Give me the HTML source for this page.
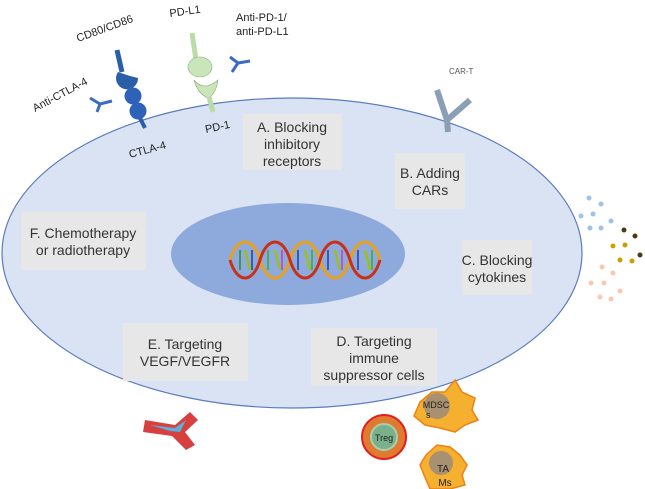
<!DOCTYPE html>
<html><head><meta charset="utf-8"><style>
html,body{margin:0;padding:0;background:#fff;}
svg{display:block;font-family:"Liberation Sans",sans-serif;}
.b{fill:#e7e7e7;}
.t{font-size:14px;fill:#333;text-anchor:middle;}
.s{font-size:11px;fill:#222;}
</style></head><body>
<svg width="645" height="489" viewBox="0 0 645 489">
<ellipse cx="292" cy="253" rx="290" ry="155" fill="#dae3f3" stroke="#5b7cbd" stroke-width="1.2"/>
<ellipse cx="288" cy="254" rx="117" ry="51" fill="#8eaadc"/>
<!-- DNA -->
<g stroke-width="1.5">
<line x1="240" y1="250" x2="240" y2="270" stroke="#2a8a2a"/><line x1="252" y1="250" x2="252" y2="270" stroke="#2040a0"/><line x1="268" y1="250" x2="268" y2="270" stroke="#30b030"/><line x1="282" y1="250" x2="282" y2="270" stroke="#c040c0"/><line x1="298" y1="250" x2="298" y2="270" stroke="#2040a0"/><line x1="312" y1="250" x2="312" y2="270" stroke="#30b030"/><line x1="328" y1="250" x2="328" y2="270" stroke="#2040a0"/><line x1="342" y1="250" x2="342" y2="270" stroke="#c040c0"/><line x1="358" y1="250" x2="358" y2="270" stroke="#2040a0"/><line x1="372" y1="250" x2="372" y2="270" stroke="#30b030"/>
</g>
<g stroke-width="3" fill="none">
<path d="M230 272 C237 248,253 248,260 272 S283 296,290 272 S313 248,320 272 S343 296,350 272 S373 248,380 272" stroke="#e8a020" transform="translate(0,-12)"/>
<path d="M230 248 C237 272,253 272,260 248 S283 224,290 248 S313 272,320 248 S343 224,350 248 S373 272,380 248" stroke="#c83018" transform="translate(0,12)"/>
<path d="M245 250 L250 270 M275 250 L280 270 M305 250 L310 270 M335 250 L340 270 M365 250 L370 270" stroke="#9ac020" stroke-width="2.5"/>
</g>
<!-- boxes -->
<rect class="b" x="243" y="114" width="99" height="56"/>
<text class="t" x="292" y="132">A. Blocking</text><text class="t" x="292" y="149">inhibitory</text><text class="t" x="292" y="166">receptors</text>
<rect class="b" x="395" y="153" width="70" height="56"/>
<text class="t" x="430" y="178">B. Adding</text><text class="t" x="430" y="195">CARs</text>
<rect class="b" x="462" y="240" width="70" height="55"/>
<text class="t" x="497" y="265">C. Blocking</text><text class="t" x="497" y="282">cytokines</text>
<rect class="b" x="311" y="328" width="126" height="58"/>
<text class="t" x="374" y="346">D. Targeting</text><text class="t" x="374" y="363">immune</text><text class="t" x="374" y="380">suppressor cells</text>
<rect class="b" x="123" y="323" width="125" height="58"/>
<text class="t" x="185" y="349">E. Targeting</text><text class="t" x="185" y="366">VEGF/VEGFR</text>
<rect class="b" x="21" y="212" width="125" height="58"/>
<text class="t" x="83" y="238">F. Chemotherapy</text><text class="t" x="83" y="255">or radiotherapy</text>
<!-- CTLA4 -->
<line x1="117" y1="50" x2="122" y2="72" stroke="#2a5fa8" stroke-width="5"/>
<path d="M118 72 a11 11 0 1 0 20 6 l-8 -2z" fill="#2a5fa8"/>
<circle cx="133" cy="96" r="8.5" fill="#2e62b8"/>
<circle cx="138" cy="111" r="8.5" fill="#2e62b8"/>
<line x1="140" y1="118" x2="145" y2="128" stroke="#2a5fa8" stroke-width="4"/>
<text class="s" x="78" y="42" transform="rotate(-20 78 42)">CD80/CD86</text>
<text class="s" x="35" y="112" transform="rotate(-28 35 112)">Anti-CTLA-4</text>
<text class="s" x="130" y="158" transform="rotate(-15 130 158)">CTLA-4</text>
<path d="M90 98 L100 104 L112 101 M100 104 L97 112" stroke="#3a6cc0" stroke-width="3" fill="none"/>
<!-- PD-1 -->
<line x1="192" y1="33" x2="196" y2="60" stroke="#b9dca9" stroke-width="5"/>
<ellipse cx="200" cy="67" rx="12" ry="10" fill="#c9e6bb" stroke="#8aa87a" stroke-width="0.6"/>
<path d="M194 80 q10 12 24 0 q-2 14 -10 18 q-10 -4 -14 -18z" fill="#c9e6bb" stroke="#8aa87a" stroke-width="0.6"/>
<line x1="209" y1="97" x2="213" y2="112" stroke="#b9dca9" stroke-width="5"/>
<text class="s" x="170" y="17" transform="rotate(-8 170 17)">PD-L1</text>
<text class="s" x="236" y="21">Anti-PD-1/</text><text class="s" x="236" y="35">anti-PD-L1</text>
<text class="s" x="206" y="133" transform="rotate(-12 206 133)">PD-1</text>
<path d="M230 57 L238 63 L250 61 M238 63 L232 72" stroke="#3a6cc0" stroke-width="3" fill="none"/>
<!-- CAR-T -->
<text x="449" y="74" font-size="8" fill="#555">CAR-T</text>
<path d="M437 90 L447 120 L470 100 M447 120 L448 132" stroke="#8a9fb5" stroke-width="6" fill="none"/>
<!-- dots -->
<g fill="#9ec3e6"><circle cx="589" cy="198" r="2.5"/><circle cx="601" cy="204" r="2.5"/><circle cx="581" cy="216" r="2.5"/><circle cx="593" cy="214" r="2.5"/><circle cx="611" cy="221" r="2.5"/><circle cx="590" cy="228" r="2.5"/><circle cx="601" cy="228" r="2.5"/></g>
<g fill="#c9a000"><circle cx="624" cy="230" r="2.5" fill="#4a3a10"/><circle cx="635" cy="236" r="2.5" fill="#4a3a10"/><circle cx="613" cy="246" r="2.5"/><circle cx="625" cy="245" r="2.5"/><circle cx="620" cy="260" r="2.5"/><circle cx="632" cy="261" r="2.5"/><circle cx="640" cy="255" r="2.5" fill="#4a3a10"/></g>
<g fill="#f8c8b0"><circle cx="602" cy="267" r="2.5"/><circle cx="613" cy="273" r="2.5"/><circle cx="591" cy="283" r="2.5"/><circle cx="604" cy="283" r="2.5"/><circle cx="620" cy="291" r="2.5"/><circle cx="600" cy="297" r="2.5"/><circle cx="611" cy="299" r="2.5"/></g>
<!-- vessel -->
<path d="M145 420 L175 425 L190 412 L198 420 L185 432 L195 445 L186 450 L172 436 L143 432z" fill="#d84040"/>
<path d="M150 425 L175 428 L186 420 L180 432 L170 431z" fill="#5ab0d8"/>
<!-- Treg -->
<circle cx="384" cy="437" r="22" fill="#e07a30" stroke="#e02020" stroke-width="2"/>
<circle cx="384" cy="437" r="13" fill="#7ab08a" stroke="#a8d0b0" stroke-width="2"/>
<text x="384" y="441" font-size="9" text-anchor="middle" fill="#222">Treg</text>
<!-- MDSC -->
<path d="M420 402 L432 392 L445 392 L455 380 L462 392 L475 398 L472 410 L478 420 L465 425 L455 432 L440 428 L425 425 L414 416z" fill="#f5b030" stroke="#f08010" stroke-width="1.5"/>
<circle cx="437" cy="406" r="13" fill="#a89070"/>
<text x="436" y="408" font-size="9" text-anchor="middle" fill="#222">MDSC</text>
<text x="426" y="418" font-size="9" fill="#222">s</text>
<!-- TAMs -->
<path d="M426 455 L437 445 L450 447 L460 455 L467 465 L462 475 L465 485 L450 489 L430 489 L424 475 L420 465z" fill="#f5b030" stroke="#f08010" stroke-width="1.5"/>
<circle cx="441" cy="463" r="12" fill="#a89070"/>
<text x="443" y="472" font-size="10" text-anchor="middle" fill="#222">TA</text>
<text x="445" y="486" font-size="10" text-anchor="middle" fill="#222">Ms</text>
</svg>
</body></html>
